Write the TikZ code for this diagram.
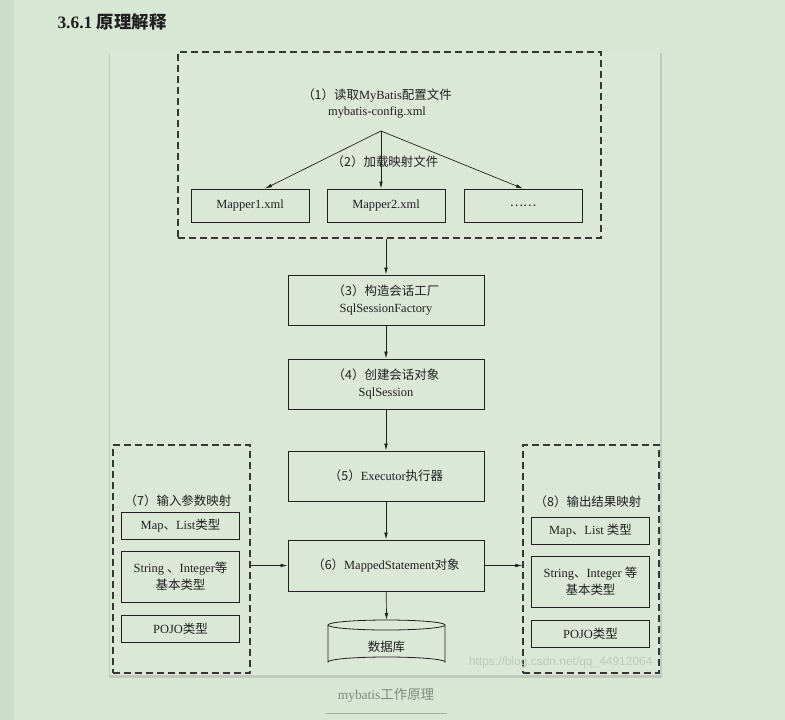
\documentclass[tikz,border=0pt]{standalone}
\usepackage{fontspec}
\setmainfont{Liberation Serif}
\newfontfamily\cjk{Noto Sans CJK SC}
\newfontfamily\urlfont{Liberation Sans}
\newcommand{\zh}[1]{{\cjk #1}}
\usetikzlibrary{arrows.meta}

\definecolor{pagebg}{RGB}{216,230,212}
\definecolor{stripbg}{RGB}{203,223,200}
\definecolor{panelbg}{RGB}{219,232,215}
\definecolor{ink}{RGB}{32,32,32}
\definecolor{capgray}{RGB}{128,138,126}
\definecolor{wmark}{RGB}{188,202,186}

\tikzset{
  every node/.style={font=\fontsize{12.5}{17}\selectfont, text=ink},
  box/.style={draw=ink, line width=0.8bp, align=center, inner sep=0pt,
    minimum width=118bp},
  bigbox/.style={box, minimum width=196bp, minimum height=50bp},
  dashbox/.style={draw=ink!90, line width=1.3bp, dash pattern=on 7bp off 4bp,
    inner sep=0pt},
  flow/.style={draw=ink, line width=0.7bp, -{Latex[length=7bp,width=3.6bp]}},
}

\begin{document}
\begin{tikzpicture}[x=1bp, y=-1bp]
  % page and figure panel
  \useasboundingbox (0,0) rectangle (785,720);
  \fill[pagebg] (0,0) rectangle (785,720);
  \fill[stripbg] (0,0) rectangle (14,720);
  \fill[black!12!pagebg] (109,53) rectangle (662,678);
  \fill[panelbg] (110,52) rectangle (660,675);

  % heading
  \node[anchor=west, font=\fontsize{17.5}{20}\selectfont\bfseries] (title)
    at (54,22) {3.6.1 \zh{原理解释}};

  % (1) and (2): configuration and mapper files
  \node[dashbox, minimum width=423bp, minimum height=186bp] (readcfg) at (389.5,145) {};
  \node[align=center] (cfg) at (377,103.5)
    {\zh{（1）读取}MyBatis\zh{配置文件}\\mybatis-config.xml};
  \coordinate (branch) at (381,131);
  \node (load) at (385,162) {\zh{（2）加载映射文件}};
  \node[box, minimum height=33bp] (mapper1) at (250,205.5) {Mapper1.xml};
  \node[box, minimum height=33bp] (mapper2) at (386,205.5) {Mapper2.xml};
  \node[box, minimum height=33bp] (mapper3) at (523,205.5) {\zh{……}};
  \draw[flow] (branch) -- ([xshift=15bp]mapper1.north);
  \draw[flow] (branch) -- (branch |- mapper2.north);
  \draw[flow] (branch) -- (mapper3.north);

  % main column (3) - (6)
  \node[bigbox] (factory) at (386,300)
    {\zh{（3）构造会话工厂}\\SqlSessionFactory};
  \node[bigbox] (session) at (386,384)
    {\zh{（4）创建会话对象}\\SqlSession};
  \node[bigbox] (executor) at (386,476)
    {\zh{（5）}Executor\zh{执行器}};
  \node[bigbox, minimum height=51bp] (mapped) at (386,565.5)
    {\zh{（6）}MappedStatement\zh{对象}};
  \draw[flow] (readcfg.south -| factory) -- (factory);
  \draw[flow] (factory) -- (session);
  \draw[flow] (session) -- (executor);
  \draw[flow] (executor) -- (mapped);

  % database
  \draw[ink, line width=0.8bp, fill=panelbg]
    (328,625) -- (328,662) arc[start angle=180, end angle=360, x radius=58.5, y radius=5]
    -- (445,625) arc[start angle=0, end angle=-180, x radius=58.5, y radius=5] -- cycle;
  \draw[ink, line width=0.8bp] (328,625)
    arc[start angle=180, end angle=0, x radius=58.5, y radius=5];
  \coordinate (dbtop) at (386.5,620);
  \node (db) at (386.5,647) {\zh{数据库}};
  \draw[flow] (mapped) -- (dbtop);

  % (7) input mapping
  \node[dashbox, minimum width=137bp, minimum height=228bp] (inmap) at (181.5,559) {};
  \node (inlabel) at (178,501) {\zh{（7）输入参数映射}};
  \node[box, minimum height=27bp] (inA) at (180.5,525.5) {Map\zh{、}List\zh{类型}};
  \node[box, minimum height=51bp] (inB) at (180.5,576.5)
    {String \zh{、}Integer\zh{等}\\\zh{基本类型}};
  \node[box, minimum height=27bp] (inC) at (180.5,628.5) {POJO\zh{类型}};
  \draw[flow] (inmap.east |- mapped) -- (mapped.west);

  % (8) output mapping
  \node[dashbox, minimum width=136bp, minimum height=228bp] (outmap) at (591,559) {};
  \node (outlabel) at (588,502) {\zh{（8）输出结果映射}};
  \node[box, minimum height=27bp] (outA) at (590.5,530.5) {Map\zh{、}List \zh{类型}};
  \node[box, minimum height=51bp] (outB) at (590.5,581.5)
    {String\zh{、}Integer \zh{等}\\\zh{基本类型}};
  \node[box, minimum height=27bp] (outC) at (590.5,633.5) {POJO\zh{类型}};
  \draw[flow] (mapped.east) -- (outmap.west |- mapped);

  % watermark and caption
  \node[anchor=east, font=\urlfont\fontsize{12}{12}\selectfont, text=wmark] (url)
    at (656,662) {https://blog.csdn.net/qq\_44912064};
  \node[font=\fontsize{13.5}{16}\selectfont, text=capgray] (caption)
    at (386,695) {mybatis\zh{工作原理}};
  \draw[capgray!60!pagebg, line width=0.8bp] (326,713) -- (447,713);
\end{tikzpicture}
\end{document}
